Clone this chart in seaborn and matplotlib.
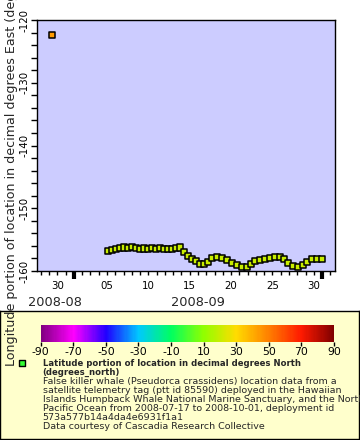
"""Satellite tag track: longitude vs time, coloured by latitude (ERDDAP style)
"""

import matplotlib
matplotlib.use("Agg")
import matplotlib.pyplot as plt
import matplotlib.dates as mdates
from matplotlib.colors import LinearSegmentedColormap, Normalize
from matplotlib.cm import ScalarMappable
import numpy as np
import pandas as pd
import seaborn as sns

# ---- data ------------------------------------------------------------------
# one odd early fix, then the track from 5 Sep to 1 Oct 2008
fix_time = [
    "2008-08-29 08:00",
    "2008-09-05 02:40", "2008-09-05 14:10", "2008-09-06 01:55", "2008-09-06 13:25",
    "2008-09-07 01:10", "2008-09-07 12:45", "2008-09-08 00:15", "2008-09-08 12:00",
    "2008-09-08 23:30", "2008-09-09 11:00", "2008-09-09 22:50", "2008-09-10 10:20",
    "2008-09-10 22:05", "2008-09-11 09:35", "2008-09-11 21:10", "2008-09-12 08:50",
    "2008-09-12 20:25", "2008-09-13 07:55", "2008-09-13 19:40", "2008-09-14 07:10",
    "2008-09-14 18:45", "2008-09-15 06:25", "2008-09-15 18:00", "2008-09-16 05:45",
    "2008-09-16 17:15", "2008-09-17 04:50", "2008-09-17 16:30", "2008-09-18 07:00",
    "2008-09-18 21:35", "2008-09-19 12:00", "2008-09-20 02:40", "2008-09-20 17:00",
    "2008-09-21 07:25", "2008-09-21 22:05", "2008-09-22 09:35", "2008-09-22 21:20",
    "2008-09-23 11:45", "2008-09-24 02:25", "2008-09-24 16:50", "2008-09-25 07:25",
    "2008-09-25 21:50", "2008-09-26 09:20", "2008-09-26 21:05", "2008-09-27 11:30",
    "2008-09-28 02:10", "2008-09-28 16:35", "2008-09-29 04:05", "2008-09-29 18:40",
    "2008-09-30 09:10", "2008-09-30 23:45",
]
longitude = [
    -122.4,
    -156.81, -156.65, -156.49, -156.33, -156.25, -156.33, -156.18, -156.33,
    -156.49, -156.41, -156.49, -156.33, -156.49, -156.33, -156.49, -156.49,
    -156.49, -156.33, -156.25, -156.97, -157.61, -158.09, -158.41, -158.88,
    -158.88, -158.57, -157.93, -157.77, -157.93, -158.25, -158.73, -159.04,
    -159.36, -159.36, -158.88, -158.41, -158.25, -158.09, -157.93, -157.77,
    -157.77, -158.09, -158.73, -159.20, -159.36, -159.04, -158.57, -158.09,
    -158.09, -158.09,
]
latitude = [44.0] + [19.8] * 50

lon_ticks = [-160, -150, -140, -130, -120]
lat_ticks = [-90, -70, -50, -30, -10, 10, 30, 50, 70, 90]
x_range = ["2008-08-27 12:00", "2008-10-02 14:00"]

ylabel = "Longitude portion of location in decimal degrees East (degrees_east)"
legend_title = [
    "Latitude portion of location in decimal degrees North",
    "(degrees_north)",
]
legend_lines = [
    "False killer whale (Pseudorca crassidens) location data from a",
    "satellite telemetry tag (ptt id 85590) deployed in the Hawaiian",
    "Islands Humpback Whale National Marine Sanctuary, and the North",
    "Pacific Ocean from 2008-07-17 to 2008-10-01, deployment id",
    "573a577b14a4da4e6931f1a1",
    "Data courtesy of Cascadia Research Collective",
]

# ---- style ----------------------------------------------------------------
sns.set_style("ticks")
plt.rcParams["font.family"] = ["DejaVu Sans"]
params = {
    "axes.edgecolor": "black",
    "axes.linewidth": 1.0,
    "axes.unicode_minus": False,
    "xtick.color": "black",
    "ytick.color": "black",
    "xtick.labelsize": 7.4,
    "ytick.labelsize": 7.4,
}
plt.rcParams.update(params)

# ERDDAP-like rainbow used for the colour bar
cmap = LinearSegmentedColormap.from_list(
    "erddap_rainbow",
    ["#800080", "#ff00ff", "#2000ff", "#00c8ff", "#00ff60",
     "#90ff00", "#ffdc00", "#ff8000", "#ff1a00", "#800000"],
)
norm = Normalize(-90, 90)

df = pd.DataFrame(
    {"time": pd.to_datetime(fix_time), "lon": longitude, "lat": latitude}
)

fig = plt.figure(figsize=(3.6, 4.4), dpi=100)

# legend panel first
ax_leg = fig.add_axes([0.0, 0.002, 0.997, 0.291])
ax_leg.set_facecolor("#ffffcc")
ax_leg.set_xticks([])
ax_leg.set_yticks([])
for sp in ax_leg.spines.values():
    sp.set_color("black")
    sp.set_linewidth(1.0)

ax = fig.add_axes([0.102, 0.384, 0.829, 0.5705])
ax.set_facecolor("#ccccff")

sns.scatterplot(
    data=df, x="time", y="lon", hue="lat", palette=cmap, hue_norm=norm,
    marker="s", s=20, edgecolor="black", linewidth=1.1, legend=False, ax=ax,
    zorder=3,
)

# axes limits and ticks
ax.set_xlim(pd.to_datetime(x_range[0]), pd.to_datetime(x_range[1]))
ax.set_ylim(lon_ticks[0], lon_ticks[-1])
ax.set_yticks(lon_ticks)
ax.set_yticks(np.arange(lon_ticks[0], lon_ticks[-1], 2), minor=True)
ax.set_yticklabels([str(v) for v in lon_ticks], rotation=90, va="center")
ax.tick_params(axis="y", which="major", direction="out", length=4, width=1, pad=1)
ax.tick_params(axis="y", which="minor", direction="out", length=4, width=1)

ax.xaxis.set_major_locator(mdates.MonthLocator())
ax.xaxis.set_major_formatter(plt.NullFormatter())
ax.xaxis.set_minor_locator(mdates.DayLocator())
ax.xaxis.set_minor_formatter(
    plt.FuncFormatter(
        lambda v, pos: mdates.num2date(v).strftime("%d")
        if mdates.num2date(v).day % 5 == 0 else ""
    )
)
ax.tick_params(axis="x", which="major", direction="out", length=6, width=3)
ax.tick_params(axis="x", which="minor", direction="out", length=3, width=1,
               labelsize=7.4, pad=4)

# month labels centred under the visible part of each month
x0, x1 = ax.get_xlim()
for month in ["2008-08", "2008-09"]:
    start = mdates.date2num(pd.Timestamp(month + "-01"))
    end = mdates.date2num(pd.Timestamp(month + "-01") + pd.offsets.MonthBegin(1))
    centre = (max(start, x0) + min(end, x1)) / 2
    ax.annotate(month, xy=(centre, 0), xycoords=("data", "axes fraction"),
                xytext=(0, -18), textcoords="offset points",
                ha="center", va="top", fontsize=9.3)

ax.set_xlabel("")
ax.set_ylabel("")
for sp in ax.spines.values():
    sp.set_visible(True)

# long y label, runs past the top of the figure like the original
fig.text(12 / 360, 1 - 366 / 440, ylabel, rotation=90, ha="center",
         va="bottom", fontsize=9.1, zorder=5)

# colour bar
cax = fig.add_axes([0.113, 0.2234, 0.8147, 0.038])
cb = fig.colorbar(ScalarMappable(norm=norm, cmap=cmap), cax=cax,
                  orientation="horizontal", ticks=lat_ticks)
cb.outline.set_visible(False)
cax.set_xticklabels([str(v) for v in lat_ticks])
cax.tick_params(direction="out", length=3, width=1, labelsize=7.8, pad=1)

# legend marker and text
ax_leg.scatter([0.061], [0.597], transform=ax_leg.transAxes, marker="s",
               s=22, color="#33ff33", edgecolor="black", linewidth=1,
               clip_on=False)
line_h = 9.0 / 440
y = 1 - 359 / 440
for txt in legend_title:
    fig.text(0.1186, y, txt, fontsize=6.15, fontweight="bold", va="top")
    y -= line_h
for txt in legend_lines:
    fig.text(0.1186, y, txt, fontsize=6.8, va="top")
    y -= line_h

fig.savefig("out.png", dpi=100)
